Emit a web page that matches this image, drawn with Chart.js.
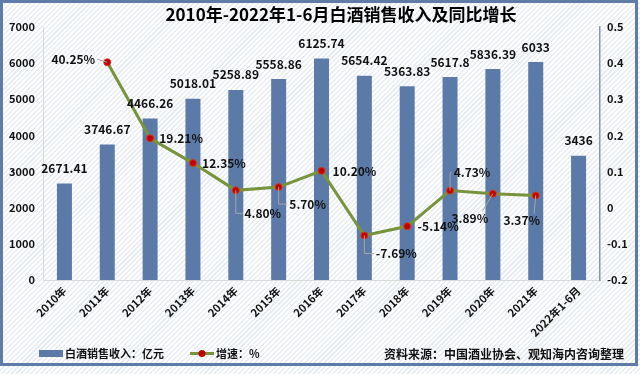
<!DOCTYPE html>
<html>
<head>
<meta charset="utf-8">
<script src="https://cdn.jsdelivr.net/npm/chart.js@4.4.0/dist/chart.umd.min.js"></script>
<style>
  html, body { margin: 0; padding: 0; background: #fff; }
  #wrap {
    width: 640px; height: 374px;
    background: repeating-linear-gradient(135deg, #ffffff 0px, #ffffff 2px, #e8edf4 2px, #e8edf4 3.5px);
  }
</style>
</head>
<body>
<div id="wrap"><canvas id="c" width="640" height="374"></canvas></div>
<script>
const years = ["2010年", "2011年", "2012年", "2013年", "2014年", "2015年", "2016年",
               "2017年", "2018年", "2019年", "2020年", "2021年", "2022年1-6月"];
const revenue = [2671.41, 3746.67, 4466.26, 5018.01, 5258.89, 5558.86, 6125.74,
                 5654.42, 5363.83, 5617.8, 5836.39, 6033, 3436];
const growth = [null, 0.4025, 0.1921, 0.1235, 0.048, 0.057, 0.102,
                -0.0769, -0.0514, 0.0473, 0.0389, 0.0337, null];

// where each % label sits relative to its point, and how the leader is drawn
const pctOffsets = [null, [-34, -3, "h"], [31, 0], [31, 0], [27, 23, "elbow"], [29, 17, "elbow"],
                    [33, 1], [32, 18, "elbow"], [31, 0], [22, -18, "elbow"], [-23, 25, "diag"],
                    [-14, 25, "diag"], null];

const FONT = '"Noto Sans CJK SC", "Noto Sans", sans-serif';
const barColor = "#5b7aa7";
const lineColor = "#77933c";

const deco = {
  id: "deco",
  afterDraw(chart) {
    const ctx = chart.ctx;
    const xs = chart.scales.x;
    const ys = chart.scales.y;
    const y1 = chart.scales.y1;
    ctx.save();

    // bar values
    ctx.fillStyle = "#111";
    ctx.font = "bold 12px " + FONT;
    ctx.textAlign = "center";
    ctx.textBaseline = "middle";
    revenue.forEach((v, i) => {
      ctx.fillText(String(v), xs.getPixelForValue(i), ys.getPixelForValue(v) - 15);
    });

    // growth labels with leader lines
    growth.forEach((v, i) => {
      if (v === null) return;
      const px = xs.getPixelForValue(i);
      const py = y1.getPixelForValue(v);
      const [dx, dy, lead] = pctOffsets[i];
      const lx = px + dx, ly = py + dy;
      const txt = (v * 100).toFixed(2) + "%";
      ctx.font = "bold 12px " + FONT;
      const w = ctx.measureText(txt).width;
      ctx.strokeStyle = "#a6a6a6";
      ctx.lineWidth = 1;
      ctx.beginPath();
      if (lead === "h") {
        ctx.moveTo(lx + w / 2 + 2, ly);
        ctx.lineTo(px, py);
      } else if (lead === "elbow") {
        ctx.moveTo(px, py);
        ctx.lineTo(px, ly);
        ctx.lineTo(lx - w / 2 - 2, ly);
      } else if (lead === "diag") {
        ctx.moveTo(px, py);
        ctx.lineTo(lx + w / 2 - 6, ly - 7);
      }
      ctx.stroke();
      ctx.fillStyle = "#111";
      ctx.fillText(txt, lx, ly);
    });

    // title
    ctx.font = "bold 17px " + FONT;
    ctx.fillStyle = "#000";
    ctx.fillText("2010年-2022年1-6月白酒销售收入及同比增长", 341, 15);

    // legend
    ctx.fillStyle = barColor;
    ctx.fillRect(39, 350, 24, 7);
    ctx.fillStyle = "#111";
    ctx.font = "bold 11px " + FONT;
    ctx.textAlign = "left";
    ctx.fillText("白酒销售收入：亿元", 65, 354);
    ctx.strokeStyle = lineColor;
    ctx.lineWidth = 3;
    ctx.beginPath();
    ctx.moveTo(190, 353.5);
    ctx.lineTo(214, 353.5);
    ctx.stroke();
    ctx.fillStyle = "#c00000";
    ctx.beginPath();
    ctx.arc(202, 353.5, 3.5, 0, Math.PI * 2);
    ctx.fill();
    ctx.fillStyle = "#111";
    ctx.fillText("增速：%", 216, 354);
    ctx.font = "bold 12px " + FONT;
    ctx.textAlign = "right";
    ctx.fillText("资料来源：中国酒业协会、观知海内咨询整理", 624, 354);

    // outer frame
    ctx.strokeStyle = "#5f7ca8";
    ctx.lineWidth = 3;
    ctx.strokeRect(1.5, 1.5, 635, 363);
    ctx.restore();
  }
};

new Chart(document.getElementById("c"), {
  type: "bar",
  data: {
    labels: years,
    datasets: [{
      type: "line",
      label: "增速：%",
      data: growth,
      yAxisID: "y1",
      borderColor: lineColor,
      borderWidth: 3,
      pointRadius: 3.5,
      pointBackgroundColor: "#c00000",
      pointBorderColor: "#d23a1e",
      pointBorderWidth: 1,
      tension: 0,
      order: 1
    }, {
      label: "白酒销售收入：亿元",
      data: revenue,
      yAxisID: "y",
      backgroundColor: barColor,
      categoryPercentage: 1,
      barPercentage: 0.35,
      order: 2
    }]
  },
  options: {
    responsive: false,
    animation: false,
    layout: { padding: { top: 27, left: 0, right: 0, bottom: 0 } },
    plugins: {
      legend: { display: false },
      title: { display: false },
      tooltip: { enabled: false }
    },
    scales: {
      x: {
        grid: { display: false, drawTicks: false },
        border: { color: "#d9d9d9" },
        ticks: {
          color: "#111",
          font: { family: FONT, size: 11, weight: "bold" },
          minRotation: 45,
          maxRotation: 45,
          padding: 4,
          autoSkip: false
        },
        afterFit(s) { s.height = 94; }
      },
      y: {
        position: "left",
        min: 0,
        max: 7000,
        grid: { display: false, drawTicks: false },
        border: { color: "#d9d9d9" },
        ticks: {
          stepSize: 1000,
          padding: 8,
          color: "#111",
          font: { family: FONT, size: 11, weight: "bold" },
          callback: (v) => String(v)
        },
        afterFit(s) { s.width = 43; }
      },
      y1: {
        position: "right",
        min: -0.2,
        max: 0.5,
        grid: { display: false, drawTicks: false },
        border: { color: "#8497b0", width: 1.5 },
        ticks: {
          stepSize: 0.1,
          padding: 7,
          color: "#111",
          font: { family: FONT, size: 11, weight: "bold" },
          callback: (v) => String(Number(v.toFixed(1)))
        },
        afterFit(s) { s.width = 40; }
      }
    }
  },
  plugins: [deco]
});
</script>
</body>
</html>
